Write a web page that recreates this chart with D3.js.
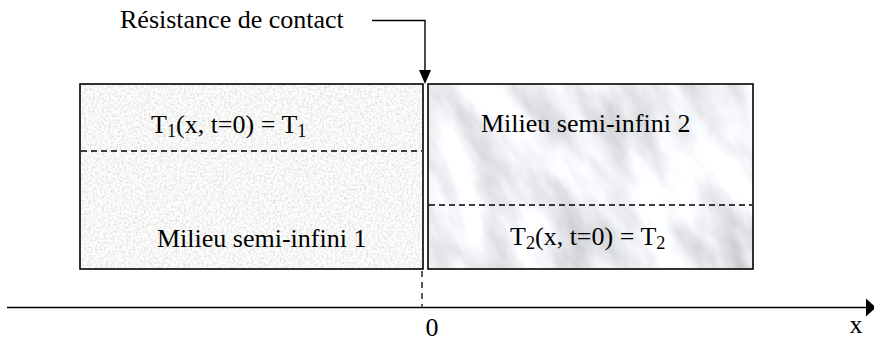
<!DOCTYPE html>
<html><head><meta charset="utf-8">
<script src="https://cdn.jsdelivr.net/npm/d3@7"></script>
<style>html,body{margin:0;padding:0;background:#fff}svg{display:block}</style>
</head><body>
<script>
// Diagram content
const media = ["Milieu semi-infini 1", "Milieu semi-infini 2"];
const mediaExtent = [[-345, -2], [3, 328]];      // x-extent of each medium (axis units, 0 = contact)
const initTemp = [["T", "1", "(x, t=0) = T", "1"], ["T", "2", "(x, t=0) = T", "2"]];
const contactLabel = "Résistance de contact";
const axisTicks = ["0"];
const axisName = "x";

(function () {
const W = 874, H = 341;
const x = d3.scaleLinear().domain([0, 1]).range([425, 426]); // 1px per unit, origin at 425
const svg = d3.select("body").append("svg").attr("width", W).attr("height", H);
const defs = svg.append("defs");

// textures
const f1 = defs.append("filter").attr("id", "grain").attr("x", 0).attr("y", 0).attr("width", 1).attr("height", 1);
f1.append("feTurbulence").attr("type", "fractalNoise").attr("baseFrequency", 0.45).attr("numOctaves", 3).attr("seed", 3);
f1.append("feColorMatrix").attr("type", "matrix")
  .attr("values", "0.55 0 0 0 0.65  0.55 0 0 0 0.65  0.55 0 0 0 0.64  0 0 0 0 1");
const f2 = defs.append("filter").attr("id", "marble").attr("x", 0).attr("y", 0).attr("width", 1).attr("height", 1);
f2.append("feTurbulence").attr("type", "fractalNoise").attr("baseFrequency", "0.03 0.011").attr("numOctaves", 4).attr("seed", 7);
f2.append("feColorMatrix").attr("type", "matrix")
  .attr("values", "0.75 0 0 0 0.5  0.75 0 0 0 0.51  0.75 0 0 0 0.54  0 0 0 0 1");

const yTop = 84, yBot = 269;
const clipIds = ["c1", "c2"];
mediaExtent.forEach((e, i) => {
  defs.append("clipPath").attr("id", clipIds[i]).append("rect")
    .attr("x", x(e[0])).attr("y", yTop).attr("width", x(e[1]) - x(e[0])).attr("height", yBot - yTop);
  const g = svg.append("g").attr("clip-path", `url(#${clipIds[i]})`);
  if (i === 0) {
    g.append("rect").attr("x", x(e[0])).attr("y", yTop).attr("width", x(e[1]) - x(e[0])).attr("height", yBot - yTop)
      .attr("filter", "url(#grain)");
  } else {
    const cx = (x(e[0]) + x(e[1])) / 2, cy = (yTop + yBot) / 2;
    g.append("rect").attr("x", cx - 260).attr("y", cy - 260).attr("width", 520).attr("height", 520)
      .attr("transform", `rotate(-30 ${cx} ${cy})`).attr("filter", "url(#marble)");
  }
  svg.append("rect").attr("x", x(e[0])).attr("y", yTop).attr("width", x(e[1]) - x(e[0])).attr("height", yBot - yTop)
    .attr("fill", "none").attr("stroke", "#000").attr("stroke-width", 1.6);
});

// dashed separators
const dashY = [151, 205];
mediaExtent.forEach((e, i) => {
  svg.append("line").attr("x1", x(e[0]) + 1).attr("x2", x(e[1]) - 1).attr("y1", dashY[i]).attr("y2", dashY[i])
    .attr("stroke", "#000").attr("stroke-width", 1.3).attr("stroke-dasharray", "6,4");
});

const font = "'Liberation Serif','Times New Roman',serif";
const FS = 26;
function sub(parts, px, py, size) {
  const tx = svg.append("text").attr("x", px).attr("y", py).attr("font-family", font).attr("font-size", size).attr("fill", "#000");
  tx.append("tspan").text(parts[0]);
  tx.append("tspan").attr("font-size", size * 0.7).attr("dy", 4).text(parts[1]);
  tx.append("tspan").attr("dy", -4).text(parts[2]);
  tx.append("tspan").attr("font-size", size * 0.7).attr("dy", 4).text(parts[3]);
}
sub(initTemp[0], 151, 133, FS);
sub(initTemp[1], 510, 245, FS);
svg.append("text").attr("x", 157).attr("y", 247).attr("font-family", font).attr("font-size", FS).text(media[0]);
svg.append("text").attr("x", 481).attr("y", 132).attr("font-family", font).attr("font-size", FS).text(media[1]);

// contact resistance label + arrow
svg.append("text").attr("x", 120).attr("y", 28).attr("font-family", font).attr("font-size", FS).text(contactLabel);
svg.append("path").attr("d", `M${x(-53)},20.5H${x(0)}V72`).attr("fill", "none").attr("stroke", "#000").attr("stroke-width", 1.4);
svg.append("path").attr("d", `M${x(-6)},70L${x(6)},70L${x(0)},84Z`).attr("fill", "#000");

// axis
const axY = 307.5;
svg.append("line").attr("x1", 7).attr("x2", 868).attr("y1", axY).attr("y2", axY).attr("stroke", "#000").attr("stroke-width", 1.3);
svg.append("path").attr("d", `M866,${axY - 9}L876,${axY}L866,${axY + 9}Z`).attr("fill", "#000");
svg.append("line").attr("x1", x(-3)).attr("x2", x(-3)).attr("y1", yBot + 2).attr("y2", axY - 1)
  .attr("stroke", "#000").attr("stroke-width", 1.3).attr("stroke-dasharray", "6,5");
svg.append("text").attr("x", x(7)).attr("y", 336).attr("text-anchor", "middle").attr("font-family", font).attr("font-size", FS).text(axisTicks[0]);
svg.append("text").attr("x", 856).attr("y", 333).attr("text-anchor", "middle").attr("font-family", font).attr("font-size", FS).text(axisName);
})();
</script>
</body></html>
